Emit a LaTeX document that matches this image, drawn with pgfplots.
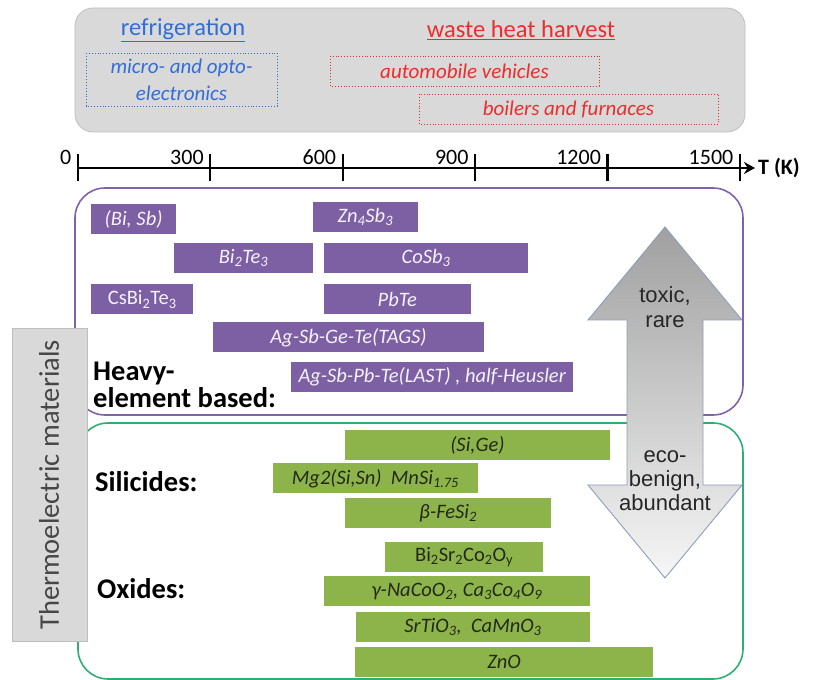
\documentclass[border=0pt]{standalone}
\usepackage{pgfplots}
\pgfplotsset{compat=1.18}
\usepackage{pgfplotstable}
\usetikzlibrary{arrows.meta}
\usepackage{fontspec}
\setmainfont{Carlito}
\newfontfamily\arialfont{Liberation Sans}

\definecolor{barpurple}{RGB}{125,96,163}
\definecolor{bargreen}{RGB}{141,180,74}
\definecolor{boxpurple}{RGB}{128,98,170}
\definecolor{boxgreen}{RGB}{45,175,115}
\definecolor{panelgray}{RGB}{217,217,217}
\definecolor{paneledge}{RGB}{190,190,190}
\definecolor{refblue}{RGB}{50,110,215}
\definecolor{wastered}{RGB}{235,45,45}
\definecolor{arrowtop}{RGB}{160,160,160}
\definecolor{arrowbot}{RGB}{246,246,246}
\definecolor{arrowedge}{RGB}{140,158,190}
\definecolor{labeltext}{RGB}{245,242,250}
\definecolor{darktext}{RGB}{35,40,25}
\definecolor{thermotext}{RGB}{70,70,70}

\protected\def\sub#1{\textsubscript{#1}}
\protected\def\upr{\upshape}

% y = 168 - pixel row of the bar centre, s/e = start/end temperature (K)
\pgfplotstableread[col sep=semicolon]{
y;s;e;label
-51.5;30;222;{(Bi, Sb)}
-49;532;770;{Zn\sub{4}Sb\sub{3}}
-90;218;532;{Bi\sub{2}Te\sub{3}}
-90;557;1020;{CoSb\sub{3}}
-131.5;30;261;{\upr CsBi\sub{2}Te\sub{3}}
-131.5;557;890;{PbTe}
-169.5;306;920;{Ag-Sb-Ge-Te(TAGS)}
-209;483;1122;{Ag-Sb-Pb-Te(LAST) , half-Heusler}
}\heavy

\pgfplotstableread[col sep=semicolon]{
y;s;e;label
-277;605;1205;{(Si,Ge)}
-310.5;442;906;{Mg2(Si,Sn)\ \ MnSi\sub{1.75}}
-345;605;1072;{β-FeSi\sub{2}}
-389;696;1054;{\upr Bi\sub{2}Sr\sub{2}Co\sub{2}O\sub{y}}
-423.5;557;1160;{γ-NaCoO\sub{2}, Ca\sub{3}Co\sub{4}O\sub{9}}
-459;630;1160;{SrTiO\sub{3},\ \ CaMnO\sub{3}}
-494;628;1303;{ZnO}
}\light

\begin{document}
\begin{tikzpicture}
\begin{axis}[
  scale only axis, width=677pt, height=680pt,
  xmin=0, xmax=1534, ymin=-512, ymax=168,
  axis x line=middle, axis y line=none,
  x axis line style={-{Stealth[length=11pt,width=12pt]}, line width=2.4pt, black},
  xtick={0,300,600,900,1200,1500},
  xticklabels={0,300,600,900,1200,1500},
  hide obscured x ticks=false,
  ytick=\empty,
  tick align=center, major tick length=27pt,
  every tick/.style={line width=2.2pt, black},
  xticklabel style={anchor=south east, inner sep=0pt, xshift=-6.5pt, yshift=17pt, font=\fontsize{22}{24}\selectfont},
  clip=false,
]
\addplot[draw=none, mark=none, forget plot,
  error bars/.cd, x dir=both, x explicit, error mark=none,
  error bar style={line width=30pt, draw=barpurple, line cap=butt}]
  table[x expr={(\thisrow{s}+\thisrow{e})/2}, y=y, x error expr={(\thisrow{e}-\thisrow{s})/2}]{\heavy};
\addplot[draw=none, mark=none, forget plot,
  error bars/.cd, x dir=both, x explicit, error mark=none,
  error bar style={line width=30pt, draw=bargreen, line cap=butt}]
  table[x expr={(\thisrow{s}+\thisrow{e})/2}, y=y, x error expr={(\thisrow{e}-\thisrow{s})/2}]{\light};
\addplot[draw=none, mark=text, text mark={}, forget plot,
  nodes near coords, point meta=explicit symbolic,
  every node near coord/.append style={anchor=center, text=labeltext, inner sep=0pt,
     font=\itshape\fontsize{20.5}{22}\selectfont}]
  table[x expr={(\thisrow{s}+\thisrow{e})/2}, y=y, meta=label]{\heavy};
\addplot[draw=none, mark=text, text mark={}, forget plot,
  nodes near coords, point meta=explicit symbolic,
  every node near coord/.append style={anchor=center, text=darktext, inner sep=0pt,
     font=\itshape\fontsize{20.5}{22}\selectfont}]
  table[x expr={(\thisrow{s}+\thisrow{e})/2}, y=y, meta=label]{\light};
\coordinate (O) at (axis cs:0,0);
\end{axis}

\begin{scope}[shift={(O)}, xshift=-78pt, yshift=168pt, x=1pt, y=-1pt]
  % application panel
  \draw[fill=panelgray, draw=paneledge, line width=0.8pt, rounded corners=18pt] (75,8) rectangle (745,132);
  \node[text=refblue, font=\fontsize{24.5}{26}\selectfont] at (183,30) {\underline{refrigeration}};
  \node[text=wastered, font=\fontsize{24.5}{26}\selectfont] at (521,30) {\underline{waste heat harvest}};
  \draw[refblue, dotted, line width=0.9pt] (86,53) rectangle (277,106);
  \node[text=refblue, align=center, font=\itshape\fontsize{21}{27}\selectfont] at (181.5,80) {micro- and opto-\\electronics};
  \draw[wastered, dotted, line width=0.9pt] (330,56) rectangle (599,86);
  \node[text=wastered, font=\itshape\fontsize{21}{23}\selectfont] at (464.5,71) {automobile vehicles};
  \draw[wastered, dotted, line width=0.9pt] (419,94) rectangle (718,124);
  \node[text=wastered, font=\itshape\fontsize{21}{23}\selectfont] at (568.5,109) {boilers and furnaces};
  \node[anchor=west, inner sep=0pt, font=\bfseries\fontsize{22}{24}\selectfont] at (758,168) {T (K)};
  % group frames
  \draw[boxpurple, line width=1.6pt, rounded corners=30pt] (75,188) rectangle (743,415);
  \draw[boxgreen, line width=1.6pt, rounded corners=30pt] (78,423) rectangle (743,679);
  \node[anchor=west, align=left, inner sep=0pt, font=\bfseries\fontsize{28.5}{27}\selectfont] at (93,385) {Heavy-\\element based:};
  \node[anchor=west, inner sep=0pt, font=\bfseries\fontsize{28.5}{30}\selectfont] at (95,482) {Silicides:};
  \node[anchor=west, inner sep=0pt, font=\bfseries\fontsize{28.5}{30}\selectfont] at (97,589) {Oxides:};
  % side label
  \draw[fill=panelgray, draw=paneledge, line width=0.8pt] (12,328) rectangle (87,641);
  \node[rotate=90, text=thermotext, font=\fontsize{28.5}{30}\selectfont] at (49,485) {Thermoelectric materials};
  % double arrow
  \draw[arrowedge, line width=0.9pt, top color=arrowtop, bottom color=arrowbot]
    (665,227) -- (742,320) -- (703,320) -- (703,485) -- (742,485) -- (665,578)
    -- (588,485) -- (627,485) -- (627,320) -- (588,320) -- cycle;
  \node[align=center, text=black!85, font=\arialfont\fontsize{22}{25}\selectfont] at (665,307) {toxic,\\rare};
  \node[align=center, text=black!85, font=\arialfont\fontsize{22}{24}\selectfont] at (665,481) {eco-\\benign,\\abundant};
  \pgfresetboundingbox
  \useasboundingbox (0,0) rectangle (831,680);
\end{scope}
\end{tikzpicture}
\end{document}
